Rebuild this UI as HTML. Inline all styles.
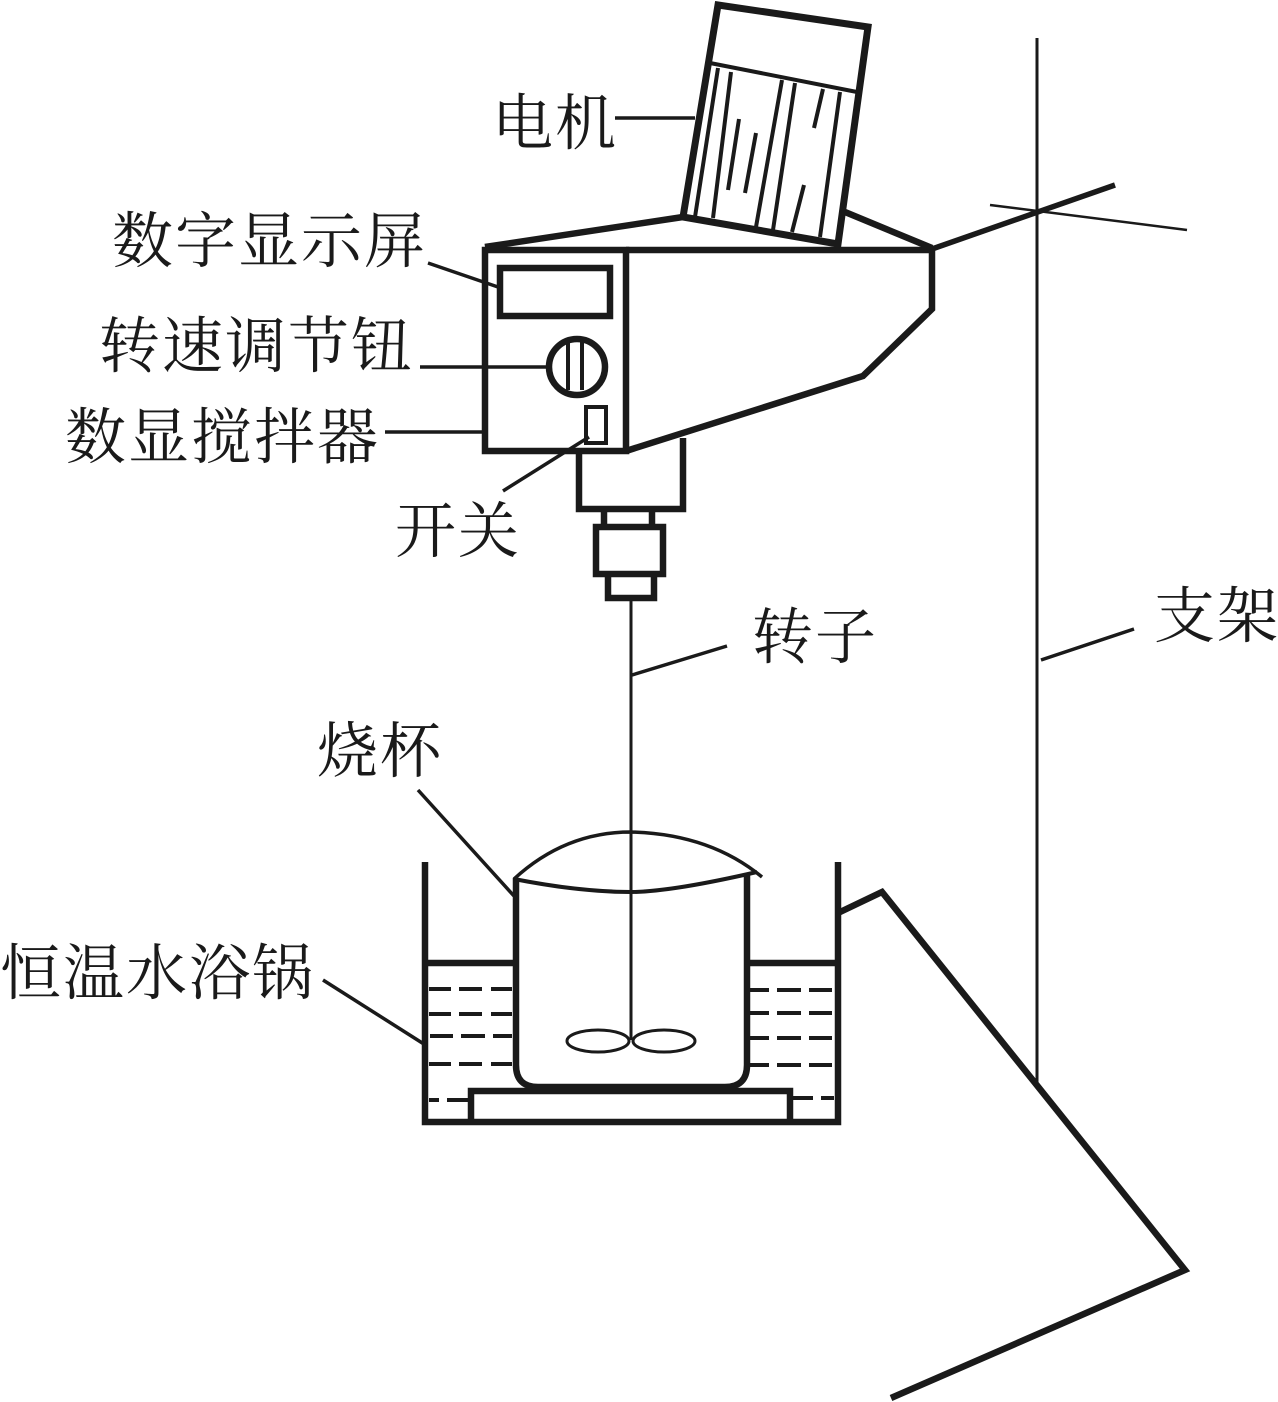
<!DOCTYPE html>
<html lang="zh">
<head>
<meta charset="utf-8">
<title>数显搅拌器装置图</title>
<style>
html,body{margin:0;padding:0;background:#fff;width:1278px;height:1402px;overflow:hidden}
svg{display:block}
text{font-family:"Liberation Serif","Noto Serif CJK SC",serif;font-size:61px;fill:#1a1a1a;letter-spacing:2px}
.g{fill:none;stroke:#1a1a1a;stroke-linecap:butt;stroke-linejoin:miter}
</style>
</head>
<body>
<svg width="1278" height="1402" viewBox="0 0 1278 1402" xmlns="http://www.w3.org/2000/svg">
<!-- stand -->
<g class="g">
<path d="M1037 38V1085" stroke-width="3"/>
<path d="M990 205L1187 230" stroke-width="2.5"/>
<path d="M932 249L1115 185" stroke-width="5.5"/>
<path d="M838 913L882 892L1185 1270L891 1398" stroke-width="6.5"/>
</g>
<!-- motor -->
<g class="g">
<path d="M718 5L868 27L838 244L683 217Z" stroke-width="7"/>
<path d="M710 63L857 92" stroke-width="4"/>
<path d="M718 68L695 217M731 72L713 218M782 80L756 227M795 83L773 230M840 92L820 237" stroke-width="4"/>
<path d="M739 119L728 190M756 133L745 193M823 89L814 128M804 185L792 232" stroke-width="4"/>
<path d="M485 247L683 217M845 212L932 248" stroke-width="6.5"/>
</g>
<!-- control head -->
<g class="g">
<rect x="485" y="250" width="141" height="201" stroke-width="6.5"/>
<path d="M626 250H932V309L863 376L626 451" stroke-width="6.5"/>
<rect x="500" y="268" width="110" height="48" stroke-width="6.5"/>
<circle cx="577" cy="367" r="28" stroke-width="6.5"/>
<path d="M568 342V390M582 342V390" stroke-width="4"/>
<rect x="586" y="407" width="20" height="36" stroke-width="4"/>
<path d="M503 491L589 437" stroke-width="3.5"/>
<path d="M579 451V509H683V438" stroke-width="6.5"/>
<path d="M604 512V525M652 512V525" stroke-width="6.5"/>
<rect x="596" y="527" width="67" height="47" stroke-width="6.5"/>
<path d="M608 577V598H654V577" stroke-width="6.5"/>
<path d="M631 598V1040" stroke-width="3"/>
</g>
<!-- bath -->
<g class="g">
<path d="M425 862V1122H838V862" stroke-width="6.5"/>
<path d="M425 963H516M748 963H838" stroke-width="6.5"/>
<path d="M471 1122V1091H790V1122" stroke-width="6.5"/>
<path d="M429 989H451M459 989H482M491 989H512M429 1014H451M459 1014H482M491 1014H512M430 1036H453M461 1036H485M493 1036H512M429 1064H451M459 1064H482M491 1064H512M429 1100H439M447 1100H468" stroke-width="4"/>
<path d="M750 990H769M777 990H801M809 990H832M750 1013H769M777 1013H801M809 1013H832M750 1038H769M777 1038H801M809 1038H832M750 1065H769M777 1065H801M809 1065H832M793 1098H813M821 1098H834" stroke-width="4"/>
</g>
<!-- beaker -->
<g class="g">
<path d="M516 878V1065Q516 1087 538 1087H725Q747 1087 747 1065V875" stroke-width="6.5"/>
<path d="M514 879Q580 892 631 892Q670 892 757 872" stroke-width="4"/>
<path d="M514 879Q565 832 631 832Q710 834 762 877" stroke-width="3.5"/>
<ellipse cx="598" cy="1041" rx="31" ry="11" stroke-width="3"/>
<ellipse cx="664" cy="1041" rx="31" ry="11" stroke-width="3"/>
</g>
<!-- leaders -->
<g class="g" stroke-width="3.5">
<path d="M615 118H695"/>
<path d="M428 263L498 287"/>
<path d="M420 367H548"/>
<path d="M385 432H485"/>
<path d="M632 675L727 646"/>
<path d="M1041 660L1134 629"/>
<path d="M418 790L514 896"/>
<path d="M323 980L427 1046"/>
</g>
<!-- labels -->
<text x="492" y="144">电机</text>
<text x="112" y="262">数字显示屏</text>
<text x="99" y="367">转速调节钮</text>
<text x="65" y="458">数显搅拌器</text>
<text x="395" y="552">开关</text>
<text x="752" y="658">转子</text>
<text x="1154" y="637">支架</text>
<text x="317" y="772">烧杯</text>
<text x="0" y="994">恒温水浴锅</text>
</svg>
</body>
</html>
